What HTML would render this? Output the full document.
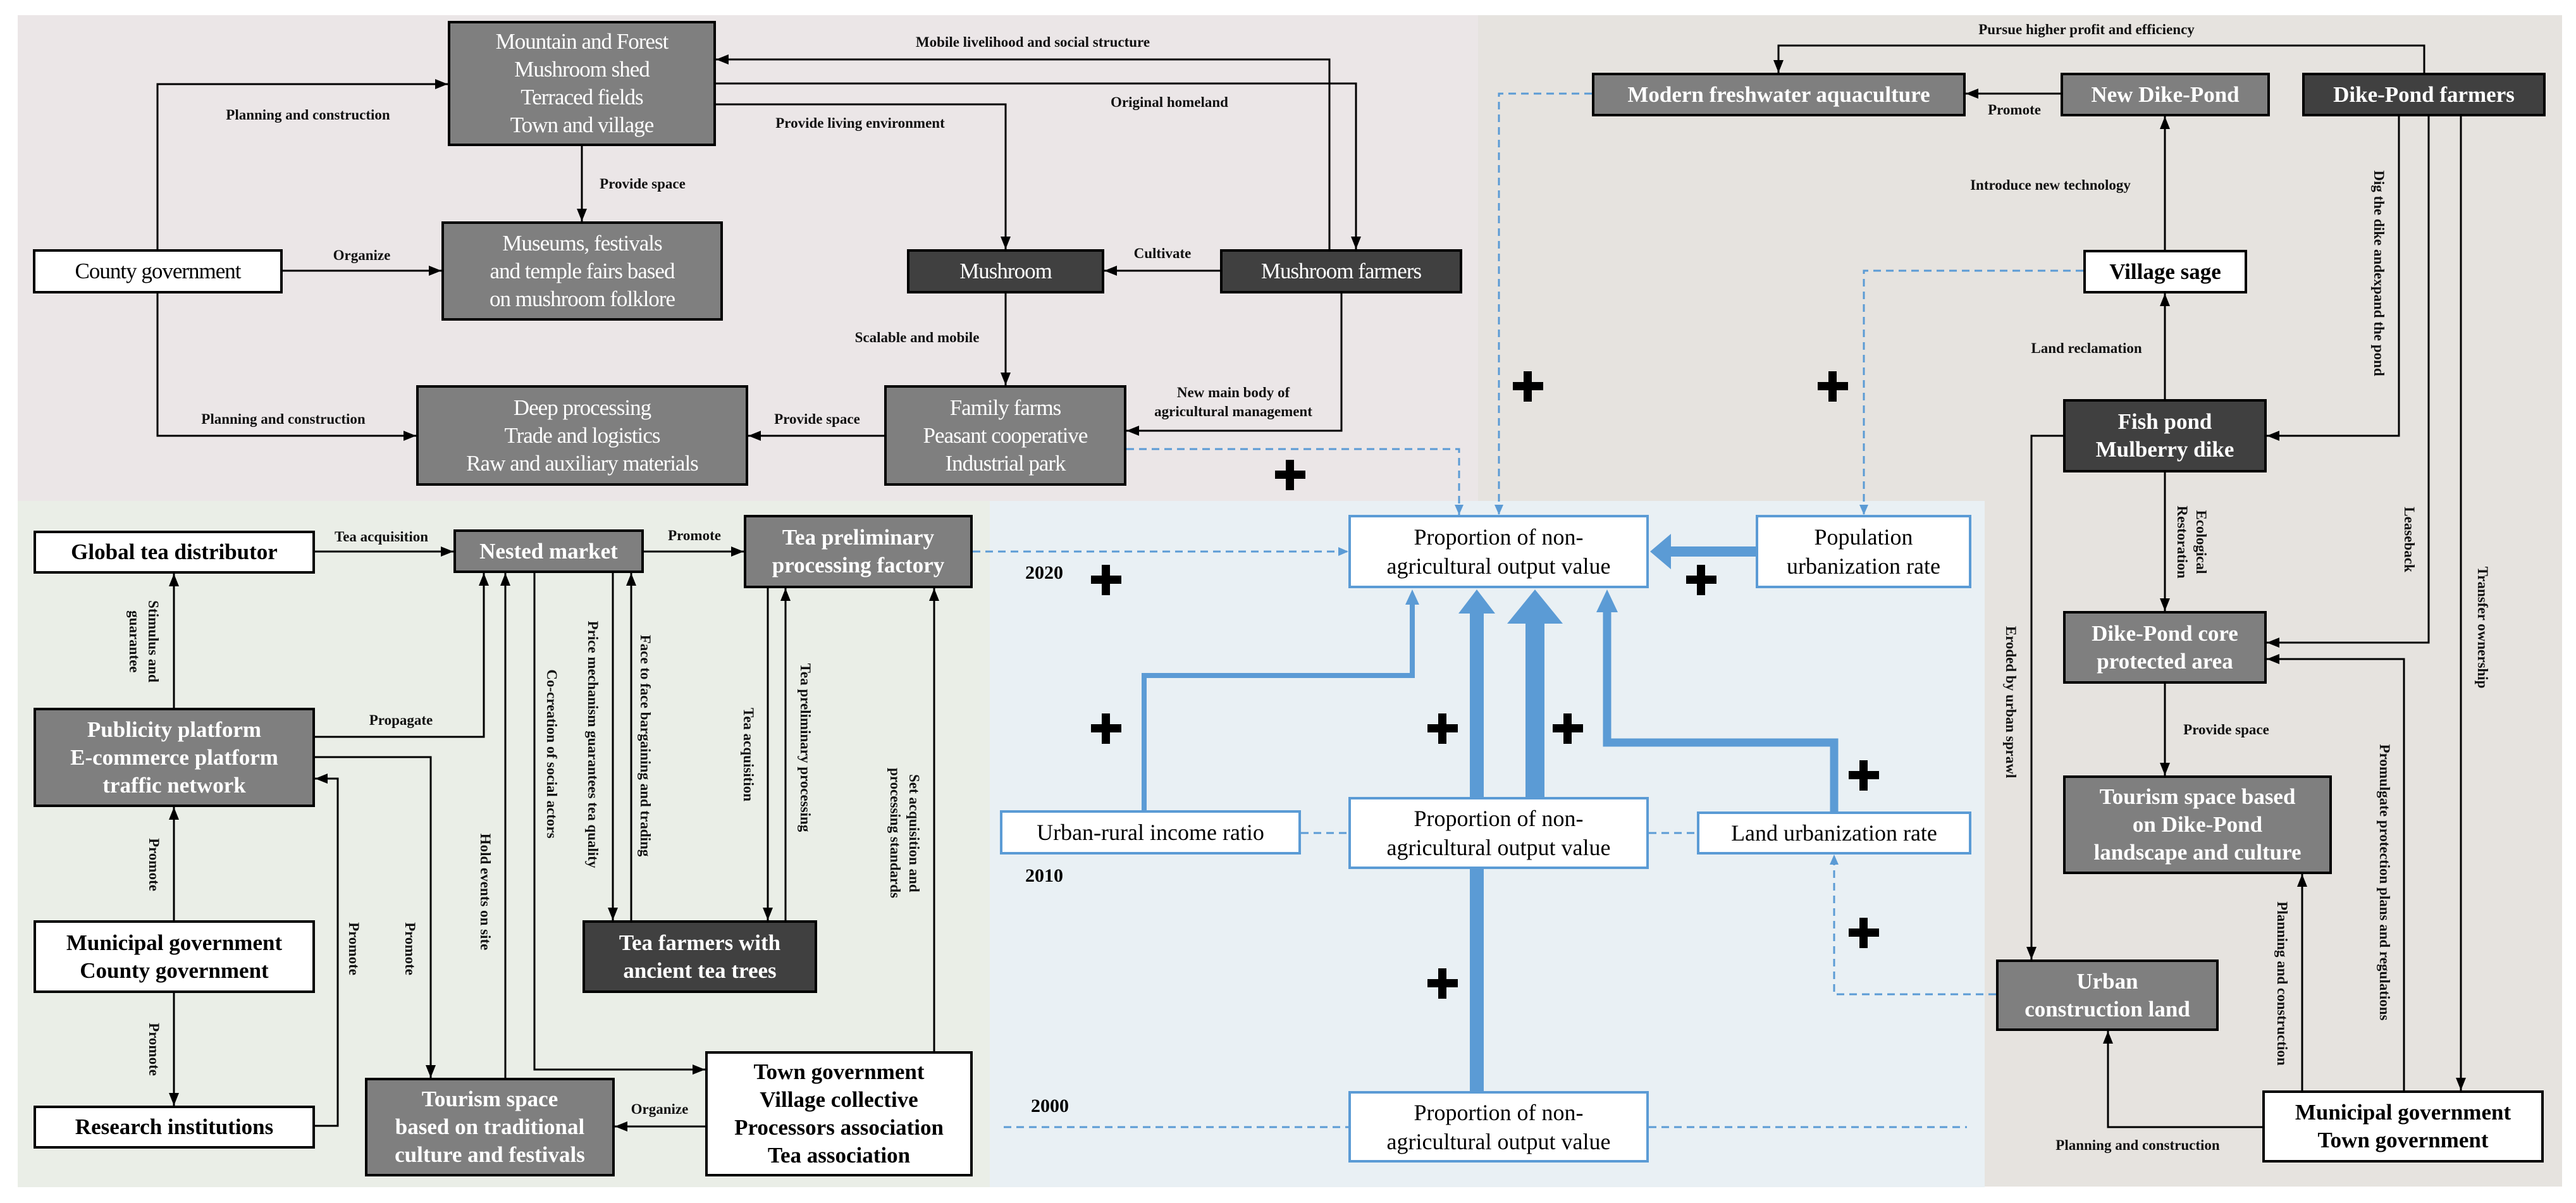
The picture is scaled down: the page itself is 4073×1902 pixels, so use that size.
<!DOCTYPE html>
<html><head><meta charset="utf-8">
<style>
html,body{margin:0;padding:0;}
body{width:4073px;height:1902px;position:relative;background:#fff;overflow:hidden;font-family:"Liberation Serif",serif;}
.r{position:absolute;}
.b{position:absolute;box-sizing:border-box;border:4px solid #000;display:flex;align-items:center;justify-content:center;text-align:center;font-size:35px;line-height:44px;font-weight:bold;}
.g{background:#7f7f7f;color:#fff;}
.d{background:#404040;color:#fff;}
.w{background:#fff;color:#000;}
.bl{background:#fff;color:#000;border:4px solid #5b9bd5;font-weight:normal;font-size:36px;line-height:46px;}
.tl{font-weight:normal;letter-spacing:-1px;}
.l{position:absolute;transform:translate(-50%,-50%);font-size:23px;font-weight:bold;white-space:nowrap;text-align:center;line-height:30px;color:#111;}
.v{writing-mode:vertical-rl;}
.y{position:absolute;font-size:30px;font-weight:bold;}
</style></head><body>
<div class="r" style="left:28px;top:24px;width:2313px;height:768px;background:#ebe6e7"></div>
<div class="r" style="left:2337px;top:24px;width:1714px;height:1852px;background:#e6e3df"></div>
<div class="r" style="left:28px;top:792px;width:1537px;height:1085px;background:#eaeee7"></div>
<div class="r" style="left:1565px;top:792px;width:1573px;height:1085px;background:#e9f0f4"></div>

<svg class="r" style="left:0;top:0" width="4073" height="1902" viewBox="0 0 4073 1902">
<defs>
<marker id="a" markerUnits="userSpaceOnUse" markerWidth="22" markerHeight="20" refX="20" refY="10" orient="auto"><path d="M0,2 L20,10 L0,18 Z" fill="#000"/></marker>
<marker id="ba" markerUnits="userSpaceOnUse" markerWidth="18" markerHeight="16" refX="16" refY="8" orient="auto"><path d="M0,1 L16,8 L0,15 Z" fill="#5b9bd5"/></marker>
</defs>
<g fill="none" stroke="#000" stroke-width="3" marker-end="url(#a)">
<polyline points="249,394 249,133 708,133"/>
<polyline points="447,428 698,428"/>
<polyline points="249,464 249,689 658,689"/>
<polyline points="920,231 920,350"/>
<polyline points="1132,165 1590,165 1590,394"/>
<polyline points="2102,394 2102,94 1132,94"/>
<polyline points="1132,132 2144,132 2144,394"/>
<polyline points="1929,428 1746,428"/>
<polyline points="1590,464 1590,609"/>
<polyline points="2121,464 2121,681 1781,681"/>
<polyline points="1398,689 1183,689"/>
<polyline points="498,872 717,872"/>
<polyline points="1018,872 1176,872"/>
<polyline points="275,1119 275,907"/>
<polyline points="498,1165 765,1165 765,906"/>
<polyline points="498,1197 681,1197 681,1704"/>
<polyline points="498,1780 534,1780 534,1231 498,1231"/>
<polyline points="275,1455 275,1276"/>
<polyline points="275,1570 275,1748"/>
<polyline points="799,1704 799,906"/>
<polyline points="845,906 845,1691 1115,1691"/>
<polyline points="969,906 969,1455"/>
<polyline points="998,1455 998,906"/>
<polyline points="1214,930 1214,1455"/>
<polyline points="1242,1455 1242,930"/>
<polyline points="1477,1662 1477,930"/>
<polyline points="1115,1781 972,1781"/>
<polyline points="3833,115 3833,72 2812,72 2812,115"/>
<polyline points="3258,148 3108,148"/>
<polyline points="3423,395 3423,184"/>
<polyline points="3423,631 3423,464"/>
<polyline points="3793,184 3793,689 3584,689"/>
<polyline points="3840,184 3840,1016 3584,1016"/>
<polyline points="3891,184 3891,1724"/>
<polyline points="3262,689 3212,689 3212,1517"/>
<polyline points="3423,747 3423,966"/>
<polyline points="3423,1081 3423,1226"/>
<polyline points="3577,1782 3333,1782 3333,1630"/>
<polyline points="3640,1724 3640,1382"/>
<polyline points="3801,1724 3801,1042 3584,1042"/>
</g>
<g fill="none" stroke="#5b9bd5" stroke-width="3" stroke-dasharray="12 8">
<polyline points="1781,710 2307,710 2307,814" marker-end="url(#ba)"/>
<polyline points="2517,148 2370,148 2370,814" marker-end="url(#ba)"/>
<polyline points="3294,428 2947,428 2947,814" marker-end="url(#ba)"/>
<polyline points="1538,872 2132,872" marker-end="url(#ba)"/>
<polyline points="3156,1572 2900,1572 2900,1351" marker-end="url(#ba)"/>
<line x1="2057" y1="1317" x2="2132" y2="1317"/>
<line x1="2607" y1="1317" x2="2683" y2="1317"/>
<line x1="1587" y1="1782" x2="2132" y2="1782"/>
<line x1="2607" y1="1782" x2="3110" y2="1782"/>
</g>
<g fill="none" stroke="#5b9bd5">
<polyline points="1809,1281 1809,1068 2233,1068 2233,950" stroke-width="8"/>
<line x1="2335" y1="1262" x2="2335" y2="965" stroke-width="22"/>
<line x1="2427" y1="1262" x2="2427" y2="982" stroke-width="30"/>
<polyline points="2900,1283 2900,1174 2541,1174 2541,962" stroke-width="13"/>
<line x1="2778" y1="872" x2="2638" y2="872" stroke-width="16"/>
<line x1="2335" y1="1727" x2="2335" y2="1372" stroke-width="22"/>
</g>
<g fill="#5b9bd5">
<polygon points="2233,932 2222,956 2244,956"/>
<polygon points="2335,932 2306,970 2364,970"/>
<polygon points="2427,932 2383,986 2471,986"/>
<polygon points="2541,932 2524,968 2558,968"/>
<polygon points="2609,872 2642,844 2642,900"/>
</g>
<g fill="#000">
<path d="M2016,744h48v13h-48zM2033,727h13v48h-13z"/>
<path d="M2392,604h48v13h-48zM2409,587h13v48h-13z"/>
<path d="M2874,604h48v13h-48zM2891,587h13v48h-13z"/>
<path d="M2666,910h48v13h-48zM2683,893h13v48h-13z"/>
<path d="M1725,910h48v13h-48zM1742,893h13v48h-13z"/>
<path d="M1725,1145h48v13h-48zM1742,1128h13v48h-13z"/>
<path d="M2257,1145h48v13h-48zM2274,1128h13v48h-13z"/>
<path d="M2455,1145h48v13h-48zM2472,1128h13v48h-13z"/>
<path d="M2923,1219h48v13h-48zM2940,1202h13v48h-13z"/>
<path d="M2923,1468h48v13h-48zM2940,1451h13v48h-13z"/>
<path d="M2257,1548h48v13h-48zM2274,1531h13v48h-13z"/>
</g>
</svg>

<!-- top-left boxes -->
<div class="b g tl" style="left:708px;top:33px;width:424px;height:198px;">Mountain and Forest<br>Mushroom shed<br>Terraced fields<br>Town and village</div>
<div class="b g tl" style="left:698px;top:350px;width:445px;height:157px;">Museums, festivals<br>and temple fairs based<br>on mushroom folklore</div>
<div class="b w tl" style="left:52px;top:394px;width:395px;height:70px;">County government</div>
<div class="b d tl" style="left:1434px;top:394px;width:312px;height:70px;">Mushroom</div>
<div class="b d tl" style="left:1929px;top:394px;width:383px;height:70px;">Mushroom farmers</div>
<div class="b g tl" style="left:658px;top:609px;width:525px;height:159px;">Deep processing<br>Trade and logistics<br>Raw and auxiliary materials</div>
<div class="b g tl" style="left:1398px;top:609px;width:383px;height:159px;">Family farms<br>Peasant cooperative<br>Industrial park</div>

<!-- green boxes -->
<div class="b w" style="left:53px;top:839px;width:445px;height:68px;">Global tea distributor</div>
<div class="b g" style="left:717px;top:837px;width:301px;height:69px;">Nested market</div>
<div class="b g" style="left:1176px;top:814px;width:362px;height:116px;">Tea preliminary<br>processing factory</div>
<div class="b g" style="left:53px;top:1119px;width:445px;height:157px;">Publicity platform<br>E-commerce platform<br>traffic network</div>
<div class="b w" style="left:53px;top:1455px;width:445px;height:115px;">Municipal government<br>County government</div>
<div class="b w" style="left:53px;top:1748px;width:445px;height:68px;">Research institutions</div>
<div class="b d" style="left:921px;top:1455px;width:371px;height:115px;">Tea farmers with<br>ancient tea trees</div>
<div class="b g" style="left:577px;top:1704px;width:395px;height:156px;">Tourism space<br>based on traditional<br>culture and festivals</div>
<div class="b w" style="left:1115px;top:1662px;width:423px;height:198px;">Town government<br>Village collective<br>Processors association<br>Tea association</div>

<!-- blue boxes -->
<div class="b bl" style="left:2132px;top:814px;width:475px;height:116px;">Proportion of non-<br>agricultural output value</div>
<div class="b bl" style="left:2776px;top:814px;width:341px;height:116px;">Population<br>urbanization rate</div>
<div class="b bl" style="left:1581px;top:1281px;width:476px;height:70px;">Urban-rural income ratio</div>
<div class="b bl" style="left:2132px;top:1260px;width:475px;height:114px;">Proportion of non-<br>agricultural output value</div>
<div class="b bl" style="left:2683px;top:1283px;width:434px;height:68px;">Land urbanization rate</div>
<div class="b bl" style="left:2132px;top:1725px;width:475px;height:113px;">Proportion of non-<br>agricultural output value</div>

<!-- right boxes -->
<div class="b g" style="left:2517px;top:115px;width:591px;height:69px;">Modern freshwater aquaculture</div>
<div class="b g" style="left:3258px;top:115px;width:331px;height:69px;">New Dike-Pond</div>
<div class="b d" style="left:3640px;top:115px;width:385px;height:69px;">Dike-Pond farmers</div>
<div class="b w" style="left:3294px;top:395px;width:259px;height:69px;">Village sage</div>
<div class="b d" style="left:3262px;top:631px;width:322px;height:116px;">Fish pond<br>Mulberry dike</div>
<div class="b g" style="left:3262px;top:966px;width:322px;height:115px;">Dike-Pond core<br>protected area</div>
<div class="b g" style="left:3262px;top:1226px;width:425px;height:156px;">Tourism space based<br>on Dike-Pond<br>landscape and culture</div>
<div class="b g" style="left:3156px;top:1517px;width:352px;height:113px;">Urban<br>construction land</div>
<div class="b w" style="left:3577px;top:1724px;width:445px;height:114px;">Municipal government<br>Town government</div>

<!-- labels top-left -->
<div class="l" style="left:487px;top:182px;">Planning and construction</div>
<div class="l" style="left:572px;top:404px;">Organize</div>
<div class="l" style="left:448px;top:663px;">Planning and construction</div>
<div class="l" style="left:1016px;top:291px;">Provide space</div>
<div class="l" style="left:1360px;top:195px;">Provide living environment</div>
<div class="l" style="left:1633px;top:67px;">Mobile livelihood and social structure</div>
<div class="l" style="left:1849px;top:162px;">Original homeland</div>
<div class="l" style="left:1838px;top:401px;">Cultivate</div>
<div class="l" style="left:1450px;top:534px;">Scalable and mobile</div>
<div class="l" style="left:1950px;top:636px;">New main body of<br>agricultural management</div>
<div class="l" style="left:1292px;top:663px;">Provide space</div>

<!-- labels green -->
<div class="l" style="left:603px;top:849px;">Tea acquisition</div>
<div class="l" style="left:1098px;top:847px;">Promote</div>
<div class="l v" style="left:227px;top:1014px;">Stimulus and<br>guarantee</div>
<div class="l" style="left:634px;top:1139px;">Propagate</div>
<div class="l v" style="left:648px;top:1500px;">Promote</div>
<div class="l v" style="left:559px;top:1500px;">Promote</div>
<div class="l v" style="left:243px;top:1367px;">Promote</div>
<div class="l v" style="left:243px;top:1659px;">Promote</div>
<div class="l v" style="left:767px;top:1410px;">Hold events on site</div>
<div class="l v" style="left:872px;top:1192px;">Co-creation of social actors</div>
<div class="l v" style="left:937px;top:1177px;">Price mechanism guarantees tea quality</div>
<div class="l v" style="left:1020px;top:1179px;">Face to face bargaining and trading</div>
<div class="l v" style="left:1183px;top:1193px;">Tea acquisition</div>
<div class="l v" style="left:1273px;top:1182px;">Tea preliminary processing</div>
<div class="l v" style="left:1430px;top:1317px;">Set acquisition and<br>processing standards</div>
<div class="l" style="left:1043px;top:1754px;">Organize</div>

<!-- labels right -->
<div class="l" style="left:3299px;top:47px;">Pursue higher profit and efficiency</div>
<div class="l" style="left:3185px;top:174px;">Promote</div>
<div class="l" style="left:3242px;top:293px;">Introduce new technology</div>
<div class="l" style="left:3299px;top:551px;">Land reclamation</div>
<div class="l v" style="left:3761px;top:432px;">Dig the dike andexpand the pond</div>
<div class="l v" style="left:3809px;top:853px;">Leaseback</div>
<div class="l v" style="left:3925px;top:992px;">Transfer ownership</div>
<div class="l v" style="left:3179px;top:1110px;">Eroded by urban sprawl</div>
<div class="l v" style="left:3465px;top:857px;">Ecological<br>Restoration</div>
<div class="l" style="left:3520px;top:1154px;">Provide space</div>
<div class="l" style="left:3380px;top:1811px;">Planning and construction</div>
<div class="l v" style="left:3608px;top:1555px;">Planning and construction</div>
<div class="l v" style="left:3770px;top:1395px;">Promulgate protection plans and regulations</div>

<div class="y" style="left:1621px;top:889px;">2020</div>
<div class="y" style="left:1621px;top:1368px;">2010</div>
<div class="y" style="left:1630px;top:1732px;">2000</div>
</body></html>
